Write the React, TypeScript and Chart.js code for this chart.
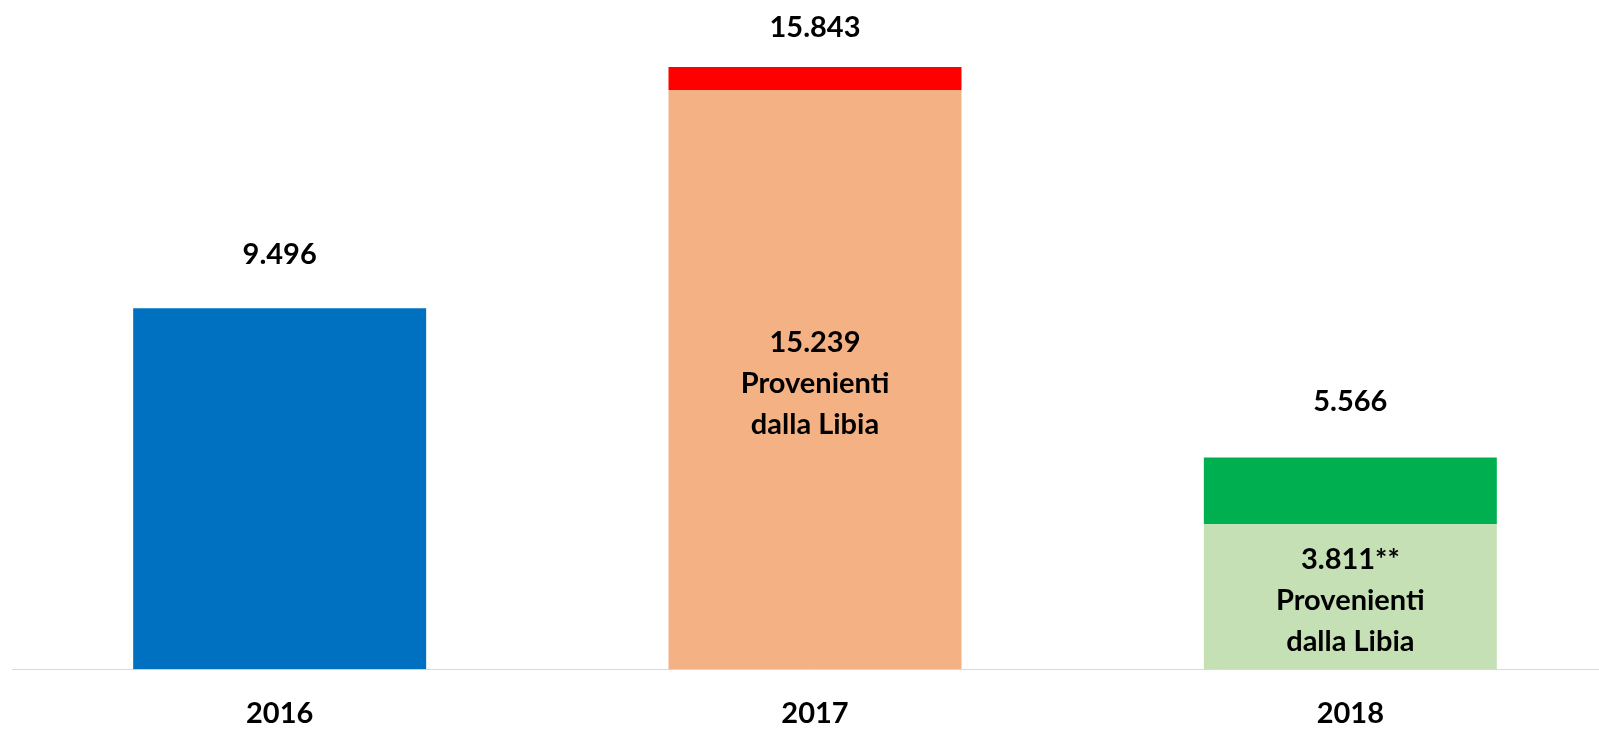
import React, { useEffect, useRef } from "react";
import { Chart, registerables } from "chart.js";

Chart.register(...registerables);

const years = ["2016", "2017", "2018"];
const totals = [9496, 15843, 5566];
const libyaPart = [9496, 15239, 3811];
const innerLabels: (string[] | null)[] = [
  null,
  ["15.239", "Provenienti", "dalla Libia"],
  ["3.811**", "Provenienti", "dalla Libia"],
];
const bottomColors = ["#0070C0", "#F4B183", "#C5E0B4"];
const topColors = ["#0070C0", "#FF0000", "#00B050"];

const restPart = totals.map((t, i) => t - libyaPart[i]);

const FONT = "Lato, 'Open Sans', sans-serif";

function fmt(n: number) {
  return String(n).replace(/\B(?=(\d{3})+(?!\d))/g, ".");
}

const labelPlugin = {
  id: "labelPlugin",
  afterDatasetsDraw(chart: any) {
    const ctx = chart.ctx;
    const topMeta = chart.getDatasetMeta(1);
    const botMeta = chart.getDatasetMeta(0);
    const gaps = [44, 30, 47];
    ctx.save();
    ctx.fillStyle = "#000";
    ctx.textAlign = "center";
    ctx.textBaseline = "alphabetic";
    ctx.font = `bold 29px ${FONT}`;
    totals.forEach((t, i) => {
      const bar = topMeta.data[i];
      const y = chart.scales.y.getPixelForValue(t);
      ctx.fillText(fmt(t), bar.x, y - gaps[i]);
    });
    innerLabels.forEach((lines, i) => {
      if (!lines) return;
      const bar = botMeta.data[i];
      const center = (bar.y + bar.base) / 2;
      const lh = 41;
      const start = center + 13 - lh * (lines.length - 1) / 2;
      lines.forEach((l, k) => ctx.fillText(l, bar.x, start + k * lh));
    });
    ctx.restore();
  },
};

export default function App() {
  const ref = useRef<HTMLCanvasElement>(null);
  useEffect(() => {
    if (!ref.current) return;
    const chart = new Chart(ref.current, {
      type: "bar",
      data: {
        labels: years,
        datasets: [
          {
            label: "Provenienti dalla Libia",
            data: libyaPart,
            backgroundColor: bottomColors,
            barPercentage: 0.5473,
            categoryPercentage: 1,
          },
          {
            label: "Altri",
            data: restPart,
            backgroundColor: topColors,
            barPercentage: 0.5473,
            categoryPercentage: 1,
          },
        ],
      },
      options: {
        responsive: false,
        animation: false,
        layout: { padding: { top: 61, left: 12, right: 2, bottom: 0 } },
        plugins: { legend: { display: false }, tooltip: { enabled: false } },
        scales: {
          x: {
            stacked: true,
            grid: { display: false, drawTicks: false },
            border: { display: true, color: "#D9D9D9", width: 1 },
            ticks: {
              color: "#000",
              font: { family: FONT, size: 29, weight: "bold" },
              padding: 27,
            },
          },
          y: {
            stacked: true,
            display: false,
            min: 0,
            max: 16000,
          },
        },
      },
      plugins: [labelPlugin],
    });
    return () => chart.destroy();
  }, []);
  return (
    <div
      style={{
        position: "fixed",
        left: 0,
        top: 0,
        width: 1599,
        height: 729,
        overflow: "hidden",
        background: "#fff",
      }}
    >
      <canvas ref={ref} width={1620} height={758} style={{ display: "block" }} />
    </div>
  );
}
